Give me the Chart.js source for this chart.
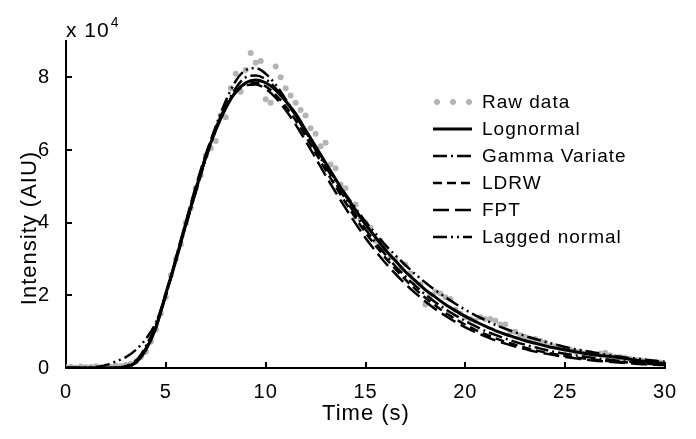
<!DOCTYPE html>
<html>
<head>
<meta charset="utf-8">
<script src="https://cdn.jsdelivr.net/npm/chart.js@4.4.0/dist/chart.umd.min.js"></script>
<style>
  html, body { margin: 0; padding: 0; background: #fff; }
  #wrap { width: 696px; height: 439px; }
</style>
</head>
<body>
<div id="wrap"><canvas id="chart"></canvas></div>
<script>
// intensity values in units of 10^4 AIU
// fitted curves sampled every 0.5 s, raw data every 0.25 s
const fitStep = 0.5;
const rawStep = 0.25;
const fitTimes = Array.from({ length: 61 }, (_, i) => i * fitStep);
const rawTimes = Array.from({ length: 121 }, (_, i) => i * rawStep);

const rawData = [
  0.02, 0.03, 0.01, 0.04, 0.02, 0.03, 0.05, 0.02, 0.04, 0.03, 0.06, 0.05,
  0.08, 0.12, 0.18, 0.30, 0.45, 0.72, 1.05, 1.50, 1.95, 2.55, 3.00, 3.40,
  4.00, 4.40, 4.95, 5.30, 5.85, 6.05, 6.25, 6.95, 6.90, 7.70, 8.10, 7.60,
  8.20, 8.67, 8.40, 8.45, 7.40, 7.30, 8.30, 8.00, 7.70, 7.50, 7.30, 7.10,
  6.95, 6.60, 6.45, 6.10, 6.20, 5.60, 5.50, 5.05, 4.95, 4.50, 4.50, 4.10,
  4.00, 3.85, 3.50, 3.50, 3.30, 3.05, 3.00, 2.70, 2.85, 2.60, 2.35, 2.30,
  1.75, 2.00, 2.10, 2.05, 1.95, 1.90, 1.60, 1.50, 1.40, 1.35, 1.30, 1.40,
  1.35, 1.35, 1.30, 1.20, 1.20, 1.00, 1.00, 0.90, 0.85, 0.80, 0.80, 0.75,
  0.70, 0.60, 0.60, 0.55, 0.50, 0.50, 0.45, 0.45, 0.40, 0.42, 0.38, 0.40,
  0.42, 0.35, 0.30, 0.30, 0.28, 0.25, 0.22, 0.22, 0.20, 0.18, 0.17, 0.15,
  0.12
];

const lognormal = [
  0, 0, 0, 0, 0, 0, 0.03, 0.15, 0.50, 1.10, 2.05, 2.95, 3.95, 4.90, 5.80, 6.55,
  7.15, 7.60, 7.85, 7.93, 7.85, 7.65, 7.35, 7.00, 6.55, 6.10, 5.65, 5.20, 4.75,
  4.35, 3.95, 3.60, 3.25, 2.95, 2.65, 2.40, 2.15, 1.95, 1.75, 1.58, 1.42, 1.28,
  1.15, 1.03, 0.93, 0.84, 0.75, 0.68, 0.61, 0.55, 0.50, 0.45, 0.40, 0.36, 0.33,
  0.30, 0.26, 0.22, 0.18, 0.15, 0.12
];

const gammaVariate = [
  0, 0, 0, 0, 0, 0, 0, 0.18, 0.60, 1.20, 2.05, 3.00, 3.95, 4.85, 5.75, 6.55,
  7.20, 7.70, 8.00, 8.05, 7.95, 7.70, 7.35, 6.95, 6.50, 6.00, 5.55, 5.10, 4.65,
  4.22, 3.82, 3.46, 3.12, 2.80, 2.52, 2.26, 2.02, 1.81, 1.62, 1.45, 1.29, 1.15,
  1.02, 0.91, 0.81, 0.72, 0.64, 0.57, 0.50, 0.44, 0.39, 0.35, 0.31, 0.27, 0.24,
  0.21, 0.18, 0.16, 0.14, 0.12, 0.10
];

const ldrw = [
  0, 0, 0, 0, 0, 0.01, 0.05, 0.20, 0.55, 1.15, 2.00, 3.00, 4.00, 4.95, 5.85, 6.60,
  7.20, 7.60, 7.82, 7.85, 7.75, 7.52, 7.20, 6.82, 6.38, 5.92, 5.45, 5.00, 4.55,
  4.13, 3.73, 3.37, 3.03, 2.72, 2.43, 2.17, 1.93, 1.72, 1.52, 1.35, 1.19, 1.05,
  0.93, 0.82, 0.72, 0.64, 0.56, 0.49, 0.43, 0.38, 0.33, 0.29, 0.26, 0.23, 0.20,
  0.18, 0.16, 0.14, 0.12, 0.11, 0.10
];

const fpt = [
  0, 0, 0, 0, 0, 0, 0.03, 0.17, 0.52, 1.12, 2.00, 3.02, 4.02, 5.00, 5.88, 6.62,
  7.20, 7.58, 7.78, 7.80, 7.68, 7.44, 7.10, 6.70, 6.25, 5.78, 5.30, 4.84, 4.40,
  3.98, 3.58, 3.22, 2.89, 2.59, 2.31, 2.06, 1.83, 1.62, 1.44, 1.27, 1.12, 0.99,
  0.87, 0.76, 0.67, 0.59, 0.52, 0.45, 0.40, 0.35, 0.30, 0.27, 0.23, 0.20, 0.18,
  0.16, 0.14, 0.12, 0.10, 0.09, 0.08
];

const laggedNormal = [
  0, 0, 0.01, 0.03, 0.08, 0.18, 0.30, 0.50, 0.80, 1.25, 2.00, 2.95, 3.90, 4.85,
  5.80, 6.65, 7.35, 7.90, 8.20, 8.25, 8.10, 7.80, 7.40, 6.95, 6.50, 6.05, 5.60,
  5.18, 4.78, 4.40, 4.03, 3.70, 3.38, 3.10, 2.83, 2.58, 2.35, 2.14, 1.95, 1.77,
  1.60, 1.45, 1.32, 1.19, 1.08, 0.98, 0.88, 0.80, 0.72, 0.65, 0.58, 0.52, 0.47,
  0.42, 0.37, 0.33, 0.29, 0.26, 0.23, 0.20, 0.17
];

const xTicks = [0, 5, 10, 15, 20, 25, 30];
const yTicks = [0, 2, 4, 6, 8];

const FONT = '"Liberation Sans", Arial, Helvetica, sans-serif';

function pts(ts, vs) {
  return vs.map((v, i) => ({ x: ts[i], y: v }));
}

function fitLine(label, values, dash, width) {
  return {
    label: label,
    data: pts(fitTimes, values),
    showLine: true,
    borderColor: '#000',
    borderWidth: width,
    borderDash: dash,
    pointRadius: 0,
    fill: false,
    cubicInterpolationMode: 'monotone',
    order: 0
  };
}

const datasets = [
  {
    label: 'Raw data',
    data: pts(rawTimes, rawData),
    showLine: false,
    pointRadius: 3,
    pointBorderWidth: 0,
    pointBackgroundColor: '#b4b4b4',
    pointBorderColor: '#b4b4b4',
    order: 1
  },
  fitLine('Lognormal', lognormal, [], 3),
  fitLine('Gamma Variate', gammaVariate, [14, 4, 2, 4], 2.5),
  fitLine('LDRW', ldrw, [9, 5], 2.5),
  fitLine('FPT', fpt, [16, 6], 2.5),
  fitLine('Lagged normal', laggedNormal, [14, 4, 2, 4, 2, 4], 2.5)
];

// inward ticks, legend, axis titles and exponent label
const decorations = {
  id: 'decorations',
  beforeDraw(chart) {
    chart.ctx.letterSpacing = '1px';
  },
  afterDraw(chart) {
    const ctx = chart.ctx;
    const xs = chart.scales.x, ys = chart.scales.y;
    const area = chart.chartArea;
    ctx.save();
    ctx.strokeStyle = '#000';
    ctx.lineWidth = 2;
    ctx.setLineDash([]);
    xTicks.forEach(t => {
      const px = Math.round(xs.getPixelForValue(t));
      if (t === 0) return;
      ctx.beginPath();
      ctx.moveTo(px, area.bottom);
      ctx.lineTo(px, area.bottom - 6);
      ctx.stroke();
    });
    yTicks.forEach(t => {
      const py = Math.round(ys.getPixelForValue(t));
      if (t === 0) return;
      ctx.beginPath();
      ctx.moveTo(area.left, py);
      ctx.lineTo(area.left + 6, py);
      ctx.stroke();
    });

    // legend
    const lx0 = 433, lx1 = 472, tx = 482, ly0 = 102, dy = 27;
    ctx.font = '19px ' + FONT;
    ctx.fillStyle = '#000';
    ctx.textBaseline = 'middle';
    ctx.textAlign = 'left';
    chart.data.datasets.forEach((ds, i) => {
      const y = ly0 + i * dy;
      if (ds.showLine === false) {
        ctx.fillStyle = ds.pointBackgroundColor;
        [437, 453, 469].forEach(x => {
          ctx.beginPath();
          ctx.arc(x, y, 3, 0, Math.PI * 2);
          ctx.fill();
        });
      } else {
        ctx.strokeStyle = '#000';
        ctx.lineWidth = ds.borderWidth;
        ctx.setLineDash(ds.borderDash);
        ctx.beginPath();
        ctx.moveTo(lx0, y);
        ctx.lineTo(lx1, y);
        ctx.stroke();
        ctx.setLineDash([]);
      }
      ctx.fillStyle = '#000';
      ctx.fillText(ds.label, tx, y + 1);
    });

    // axis titles
    ctx.font = '22px ' + FONT;
    ctx.textAlign = 'center';
    ctx.fillText('Time (s)', 366, 414);
    ctx.save();
    ctx.translate(30, 228);
    ctx.rotate(-Math.PI / 2);
    ctx.fillText('Intensity (AIU)', 0, 0);
    ctx.restore();

    // exponent
    ctx.textAlign = 'left';
    ctx.textBaseline = 'alphabetic';
    ctx.font = '21px ' + FONT;
    ctx.fillText('x 10', 66, 37);
    const w = ctx.measureText('x 10').width;
    ctx.font = '14px ' + FONT;
    ctx.fillText('4', 66 + w + 1, 27);
    ctx.restore();
  }
};

new Chart(document.getElementById('chart'), {
  type: 'scatter',
  data: { datasets: datasets },
  options: {
    responsive: true,
    maintainAspectRatio: false,
    animation: false,
    devicePixelRatio: 1,
    layout: { padding: { top: 41, right: 31, left: 0, bottom: 0 } },
    plugins: {
      legend: { display: false },
      tooltip: { enabled: false }
    },
    scales: {
      x: {
        type: 'linear',
        min: 0,
        max: 30,
        afterFit: s => { s.height = 71; },
        afterBuildTicks: s => { s.ticks = xTicks.map(v => ({ value: v })); },
        ticks: { color: '#000', font: { family: FONT, size: 20 }, padding: 4 },
        grid: { display: false },
        border: { display: true, color: '#000', width: 2 }
      },
      y: {
        type: 'linear',
        min: 0,
        max: 9,
        afterFit: s => { s.width = 66; },
        afterBuildTicks: s => { s.ticks = yTicks.map(v => ({ value: v })); },
        ticks: { color: '#000', font: { family: FONT, size: 20 }, padding: 8 },
        grid: { display: false },
        border: { display: true, color: '#000', width: 2 }
      }
    }
  },
  plugins: [decorations]
});
</script>
</body>
</html>
